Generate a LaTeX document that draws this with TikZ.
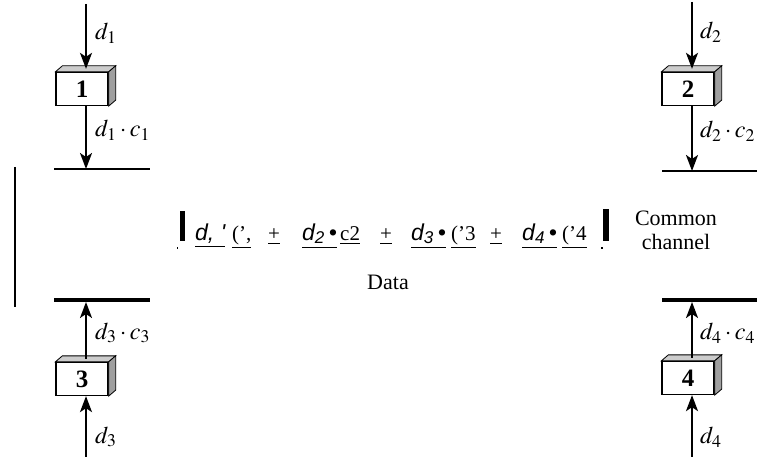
\documentclass[tikz,border=0pt]{standalone}
\usepackage{mathptmx}
\usepackage{fontspec}
\setmainfont{Liberation Serif}
\newfontfamily\arialfont{Liberation Sans}
\usetikzlibrary{arrows.meta}
\newcommand\cubefaces[1]{%
  \filldraw[fill=gray!40, draw=black, line width=0.8pt] (#1.north west) -- ++(7,-6) -- ([shift={(7,-6)}]#1.north east) -- (#1.north east) -- cycle;
  \filldraw[fill=gray!75, draw=black, line width=0.8pt] (#1.north east) -- ++(7,-6) -- ([shift={(7,-6)}]#1.south east) -- (#1.south east) -- cycle;
}
\begin{document}
\begin{tikzpicture}[x=1pt,y=-1pt,
  flow/.style={line width=2pt, -{Stealth[length=16pt,width=12pt,inset=4pt]}},
  lbl/.style={anchor=west, inner sep=0, font=\fontsize{24}{26}\selectfont},
  cube/.style={draw, line width=1.3pt, fill=white, minimum width=52pt, minimum height=33pt, inner sep=0, font=\bfseries\fontsize{25}{27}\selectfont},
  chan/.style={line width=1.2pt},
  thickchan/.style={line width=3.5pt},
  tok/.style={anchor=base west, inner sep=0, font=\fontsize{21}{23}\selectfont},
  stok/.style={anchor=base west, inner sep=0, font=\arialfont\itshape\fontsize{23}{25}\selectfont},
  plain/.style={inner sep=0, font=\fontsize{22}{24}\selectfont}]
\useasboundingbox (0,0) rectangle (757,457);

% boxes
\node[cube] (b1) at (82,89) {1};
\node[cube] (b2) at (688,89) {2};
\node[cube] (b3) at (82,379) {3};
\node[cube] (b4) at (688,378) {4};
\cubefaces{b1}\cubefaces{b2}\cubefaces{b3}\cubefaces{b4}

% channel lines
\coordinate (l1a) at (54,169); \coordinate (l1b) at (150,169); \coordinate (l1) at (86,169);
\coordinate (l2a) at (662,171); \coordinate (l2b) at (757,171); \coordinate (l2) at (692,171);
\coordinate (l3a) at (54,300); \coordinate (l3b) at (150,300); \coordinate (l3) at (86,302);
\coordinate (l4a) at (662,300); \coordinate (l4b) at (757,300); \coordinate (l4) at (692,302);
\draw[chan] (l1a) -- (l1b);
\draw[chan] (l2a) -- (l2b);
\draw[thickchan] (l3a) -- (l3b);
\draw[thickchan] (l4a) -- (l4b);

% sources
\coordinate (s1) at (86,4);
\coordinate (s2) at (692,2);
\coordinate (s3) at (86,457);
\coordinate (s4) at (692,457);

\draw[flow] (s1) -- ([shift={(4,-3)}]b1.north);
\draw[flow] ([xshift=4]b1.south) -- (l1);
\draw[flow] (s2) -- ([shift={(4,-3)}]b2.north);
\draw[flow] ([xshift=4]b2.south) -- (l2);
\draw[flow] (s3) -- ([xshift=4]b3.south);
\draw[flow] ([shift={(4,-3)}]b3.north) -- (l3);
\draw[flow] (s4) -- ([xshift=4]b4.south);
\draw[flow] ([shift={(4,-3)}]b4.north) -- (l4);

% labels
\node[lbl] (t1) at (95,33) {$d_1$};
\node[lbl] (t1c) at (95,130) {$d_1\cdot c_1$};
\node[lbl] (t2) at (700,32) {$d_2$};
\node[lbl] (t2c) at (700,131) {$d_2\cdot c_2$};
\node[lbl] (t3c) at (95,333) {$d_3\cdot c_3$};
\node[lbl] (t3) at (95,437) {$d_3$};
\node[lbl] (t4c) at (700,333) {$d_4\cdot c_4$};
\node[lbl] (t4) at (700,437) {$d_4$};

% left bar
\coordinate (vb1) at (15,167); \coordinate (vb2) at (15,307);
\draw[line width=2.2pt] (vb1) -- (vb2);

% central sum
\fill (179.5,211) rectangle (185,241);
\fill (176.5,247) rectangle (178,249);
\fill (603,209) rectangle (608.5,241);
\fill (601,247) rectangle (602.5,249);
\node[stok] (e1) at (195,240) {\underline{d, '}};
\node[tok] (e2) at (232,240) {\underline{(',}};
\node[tok] (p1) at (268,240) {\underline{+}};
\node[stok] (e3) at (302,240) {\underline{d\textsubscript{2}\,\textbullet}};
\node[tok] (e4) at (340,240) {\underline{c2}};
\node[tok] (p2) at (380,240) {\underline{+}};
\node[stok] (e5) at (411,240) {\underline{d\textsubscript{3}\,\textbullet}};
\node[tok] (e6) at (451,240) {\underline{('3}};
\node[tok] (p3) at (490,240) {\underline{+}};
\node[stok] (e7) at (522,240) {\underline{d\textsubscript{4}\,\textbullet}};
\node[tok] (e8) at (562,240) {\underline{('4}};

\node[plain] (data) at (388,282) {Data};
\node[plain, align=center] (cc) at (676,230) {Common\\channel};
\end{tikzpicture}
\end{document}
